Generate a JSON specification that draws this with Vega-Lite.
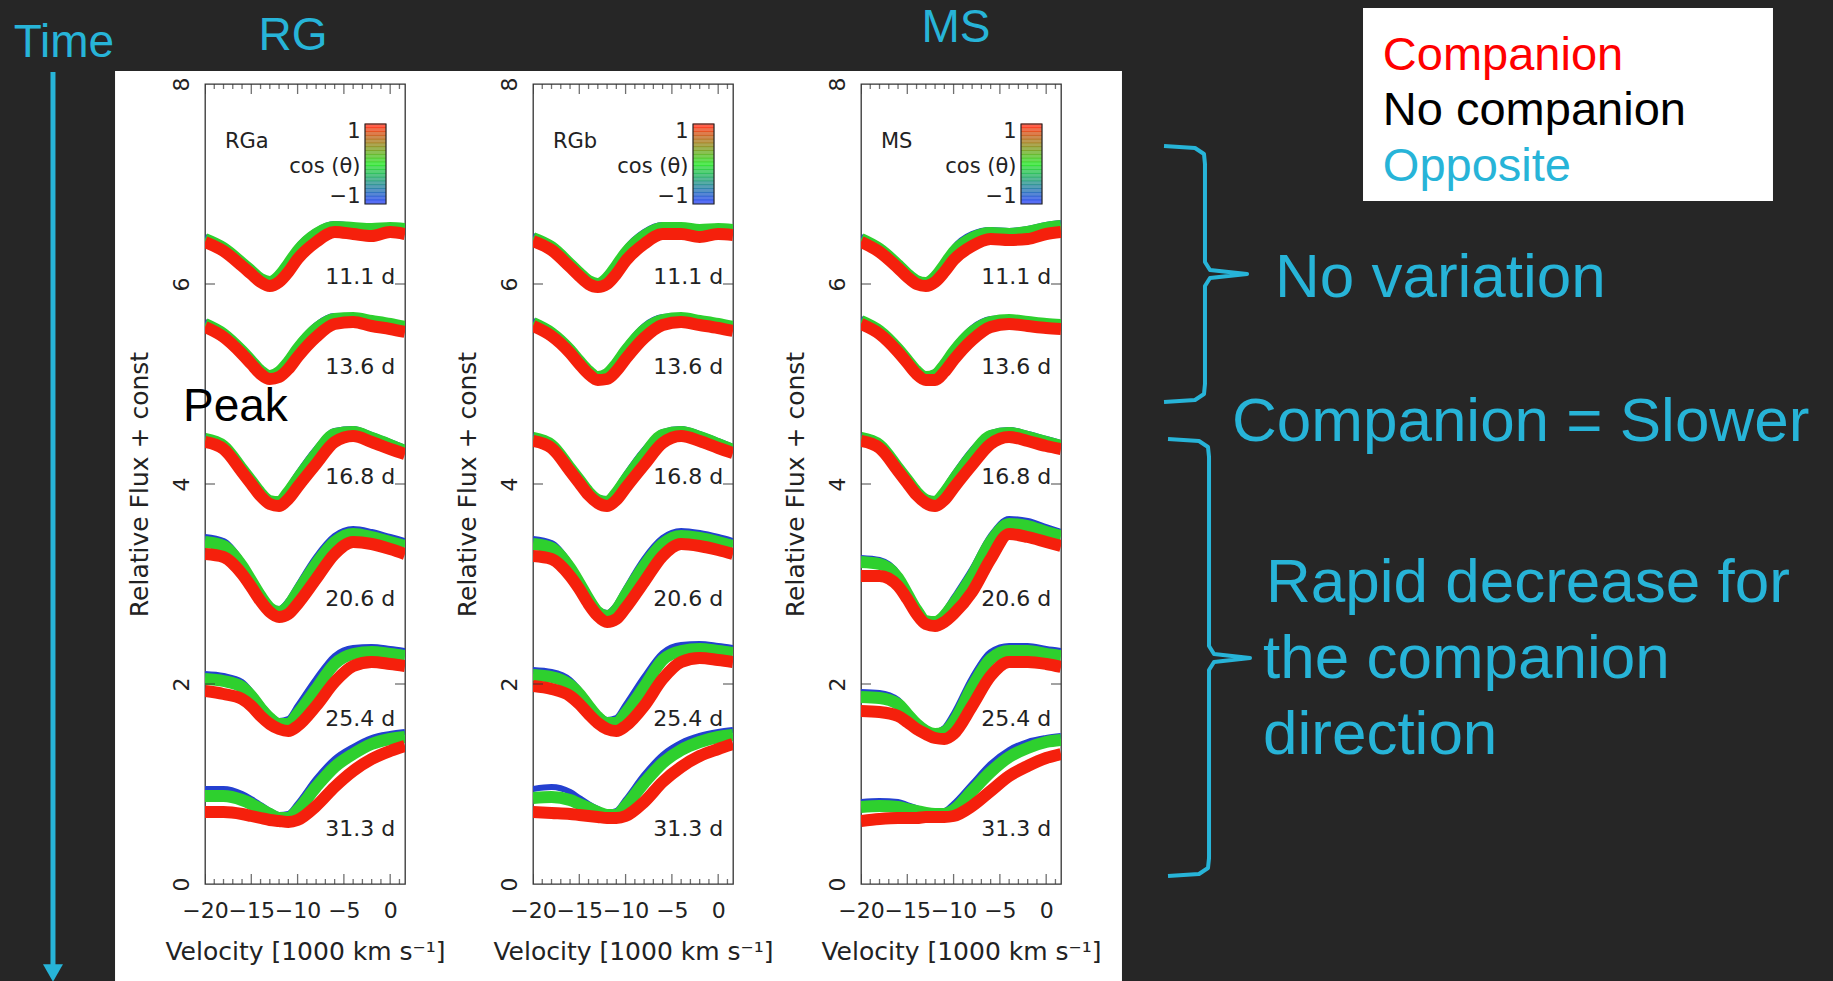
{
"$schema": "https://vega.github.io/schema/vega-lite/v6.json",
"background": "#262626",
"padding": {"left": 0, "top": 4, "right": 0, "bottom": 0},
"autosize": {"type": "pad"},
"bounds": "flush",
"spacing": 128,
"data": {"values": [{"o": 1}]},
"resolve": {"scale": {"color": "independent", "size": "independent"}},
"config": {
  "view": {"stroke": null},
  "axis": {"grid": false, "ticks": false, "domain": false, "labelFont": "DejaVu Sans", "labelFontSize": 22, "labelColor": "#222", "labelFlush": false, "labelOverlap": false, "titleFont": "DejaVu Sans", "titleFontSize": 25, "titleFontWeight": "normal", "titleColor": "#222"}
},
"datasets": {
  "spec": [
{"p":"RGa","e":"11.1","v":-20,"r":6.42,"g":6.45,"b":6.47},
{"p":"RGa","e":"11.1","v":-18,"r":6.33,"g":6.36,"b":6.38},
{"p":"RGa","e":"11.1","v":-16,"r":6.18,"g":6.21,"b":6.23},
{"p":"RGa","e":"11.1","v":-15,"r":6.10,"g":6.13,"b":6.15},
{"p":"RGa","e":"11.1","v":-14,"r":6.02,"g":6.05,"b":6.07},
{"p":"RGa","e":"11.1","v":-13,"r":5.98,"g":6.02,"b":6.04},
{"p":"RGa","e":"11.1","v":-12,"r":6.02,"g":6.08,"b":6.11},
{"p":"RGa","e":"11.1","v":-11,"r":6.12,"g":6.20,"b":6.23},
{"p":"RGa","e":"11.1","v":-10,"r":6.25,"g":6.33,"b":6.37},
{"p":"RGa","e":"11.1","v":-8,"r":6.42,"g":6.50,"b":6.53},
{"p":"RGa","e":"11.1","v":-6,"r":6.52,"g":6.57,"b":6.60},
{"p":"RGa","e":"11.1","v":-4,"r":6.50,"g":6.56,"b":6.58},
{"p":"RGa","e":"11.1","v":-2,"r":6.48,"g":6.55,"b":6.57},
{"p":"RGa","e":"11.1","v":0,"r":6.52,"g":6.56,"b":6.58},
{"p":"RGa","e":"11.1","v":1.6,"r":6.50,"g":6.55,"b":6.57},
{"p":"RGa","e":"13.6","v":-20,"r":5.57,"g":5.60,"b":5.62},
{"p":"RGa","e":"13.6","v":-18,"r":5.47,"g":5.50,"b":5.52},
{"p":"RGa","e":"13.6","v":-16,"r":5.30,"g":5.33,"b":5.35},
{"p":"RGa","e":"13.6","v":-15,"r":5.20,"g":5.23,"b":5.25},
{"p":"RGa","e":"13.6","v":-14,"r":5.10,"g":5.13,"b":5.15},
{"p":"RGa","e":"13.6","v":-13,"r":5.05,"g":5.08,"b":5.10},
{"p":"RGa","e":"13.6","v":-12,"r":5.07,"g":5.12,"b":5.15},
{"p":"RGa","e":"13.6","v":-11,"r":5.15,"g":5.22,"b":5.26},
{"p":"RGa","e":"13.6","v":-10,"r":5.27,"g":5.35,"b":5.39},
{"p":"RGa","e":"13.6","v":-8,"r":5.47,"g":5.55,"b":5.59},
{"p":"RGa","e":"13.6","v":-6,"r":5.60,"g":5.65,"b":5.68},
{"p":"RGa","e":"13.6","v":-4,"r":5.62,"g":5.66,"b":5.68},
{"p":"RGa","e":"13.6","v":-2,"r":5.58,"g":5.63,"b":5.65},
{"p":"RGa","e":"13.6","v":0,"r":5.55,"g":5.60,"b":5.62},
{"p":"RGa","e":"13.6","v":1.6,"r":5.52,"g":5.57,"b":5.59},
{"p":"RGa","e":"16.8","v":-20,"r":4.42,"g":4.45,"b":4.47},
{"p":"RGa","e":"16.8","v":-18,"r":4.35,"g":4.38,"b":4.40},
{"p":"RGa","e":"16.8","v":-16,"r":4.12,"g":4.15,"b":4.17},
{"p":"RGa","e":"16.8","v":-15,"r":4.00,"g":4.03,"b":4.05},
{"p":"RGa","e":"16.8","v":-14,"r":3.88,"g":3.91,"b":3.93},
{"p":"RGa","e":"16.8","v":-13,"r":3.80,"g":3.83,"b":3.85},
{"p":"RGa","e":"16.8","v":-12,"r":3.78,"g":3.82,"b":3.85},
{"p":"RGa","e":"16.8","v":-11,"r":3.85,"g":3.92,"b":3.96},
{"p":"RGa","e":"16.8","v":-10,"r":3.97,"g":4.05,"b":4.10},
{"p":"RGa","e":"16.8","v":-8,"r":4.20,"g":4.30,"b":4.35},
{"p":"RGa","e":"16.8","v":-6,"r":4.42,"g":4.50,"b":4.53},
{"p":"RGa","e":"16.8","v":-4,"r":4.48,"g":4.52,"b":4.55},
{"p":"RGa","e":"16.8","v":-2,"r":4.42,"g":4.46,"b":4.49},
{"p":"RGa","e":"16.8","v":0,"r":4.35,"g":4.39,"b":4.42},
{"p":"RGa","e":"16.8","v":1.6,"r":4.30,"g":4.33,"b":4.36},
{"p":"RGa","e":"20.6","v":-20,"r":3.30,"g":3.42,"b":3.47},
{"p":"RGa","e":"20.6","v":-18,"r":3.27,"g":3.38,"b":3.43},
{"p":"RGa","e":"20.6","v":-16,"r":3.10,"g":3.18,"b":3.22},
{"p":"RGa","e":"20.6","v":-15,"r":2.97,"g":3.03,"b":3.06},
{"p":"RGa","e":"20.6","v":-14,"r":2.83,"g":2.88,"b":2.90},
{"p":"RGa","e":"20.6","v":-13,"r":2.72,"g":2.76,"b":2.78},
{"p":"RGa","e":"20.6","v":-12,"r":2.67,"g":2.72,"b":2.75},
{"p":"RGa","e":"20.6","v":-11,"r":2.70,"g":2.78,"b":2.83},
{"p":"RGa","e":"20.6","v":-10,"r":2.80,"g":2.92,"b":2.98},
{"p":"RGa","e":"20.6","v":-8,"r":3.05,"g":3.20,"b":3.27},
{"p":"RGa","e":"20.6","v":-6,"r":3.30,"g":3.42,"b":3.48},
{"p":"RGa","e":"20.6","v":-4,"r":3.42,"g":3.50,"b":3.55},
{"p":"RGa","e":"20.6","v":-2,"r":3.40,"g":3.47,"b":3.52},
{"p":"RGa","e":"20.6","v":0,"r":3.35,"g":3.42,"b":3.47},
{"p":"RGa","e":"20.6","v":1.6,"r":3.30,"g":3.38,"b":3.43},
{"p":"RGa","e":"25.4","v":-20,"r":1.93,"g":2.05,"b":2.10},
{"p":"RGa","e":"25.4","v":-18,"r":1.90,"g":2.03,"b":2.08},
{"p":"RGa","e":"25.4","v":-16,"r":1.85,"g":1.97,"b":2.02},
{"p":"RGa","e":"25.4","v":-15,"r":1.78,"g":1.88,"b":1.92},
{"p":"RGa","e":"25.4","v":-14,"r":1.68,"g":1.76,"b":1.80},
{"p":"RGa","e":"25.4","v":-13,"r":1.60,"g":1.66,"b":1.69},
{"p":"RGa","e":"25.4","v":-12,"r":1.55,"g":1.60,"b":1.63},
{"p":"RGa","e":"25.4","v":-11,"r":1.53,"g":1.60,"b":1.65},
{"p":"RGa","e":"25.4","v":-10,"r":1.58,"g":1.70,"b":1.78},
{"p":"RGa","e":"25.4","v":-8,"r":1.78,"g":1.95,"b":2.05},
{"p":"RGa","e":"25.4","v":-6,"r":2.02,"g":2.20,"b":2.28},
{"p":"RGa","e":"25.4","v":-4,"r":2.18,"g":2.30,"b":2.36},
{"p":"RGa","e":"25.4","v":-2,"r":2.22,"g":2.32,"b":2.37},
{"p":"RGa","e":"25.4","v":0,"r":2.20,"g":2.30,"b":2.35},
{"p":"RGa","e":"25.4","v":1.6,"r":2.18,"g":2.28,"b":2.33},
{"p":"RGa","e":"31.3","v":-20,"r":0.72,"g":0.88,"b":0.95},
{"p":"RGa","e":"31.3","v":-18,"r":0.72,"g":0.88,"b":0.95},
{"p":"RGa","e":"31.3","v":-16,"r":0.70,"g":0.84,"b":0.90},
{"p":"RGa","e":"31.3","v":-15,"r":0.68,"g":0.80,"b":0.85},
{"p":"RGa","e":"31.3","v":-14,"r":0.66,"g":0.75,"b":0.79},
{"p":"RGa","e":"31.3","v":-13,"r":0.64,"g":0.70,"b":0.73},
{"p":"RGa","e":"31.3","v":-12,"r":0.63,"g":0.66,"b":0.69},
{"p":"RGa","e":"31.3","v":-11,"r":0.62,"g":0.66,"b":0.70},
{"p":"RGa","e":"31.3","v":-10,"r":0.64,"g":0.74,"b":0.80},
{"p":"RGa","e":"31.3","v":-8,"r":0.78,"g":0.97,"b":1.05},
{"p":"RGa","e":"31.3","v":-6,"r":0.97,"g":1.17,"b":1.25},
{"p":"RGa","e":"31.3","v":-4,"r":1.13,"g":1.30,"b":1.37},
{"p":"RGa","e":"31.3","v":-2,"r":1.25,"g":1.40,"b":1.46},
{"p":"RGa","e":"31.3","v":0,"r":1.33,"g":1.45,"b":1.50},
{"p":"RGa","e":"31.3","v":1.6,"r":1.38,"g":1.47,"b":1.52},
{"p":"RGb","e":"11.1","v":-20,"r":6.43,"g":6.46,"b":6.48},
{"p":"RGb","e":"11.1","v":-18,"r":6.34,"g":6.37,"b":6.39},
{"p":"RGb","e":"11.1","v":-16,"r":6.17,"g":6.20,"b":6.22},
{"p":"RGb","e":"11.1","v":-15,"r":6.08,"g":6.11,"b":6.13},
{"p":"RGb","e":"11.1","v":-14,"r":6.00,"g":6.03,"b":6.05},
{"p":"RGb","e":"11.1","v":-13,"r":5.97,"g":6.00,"b":6.02},
{"p":"RGb","e":"11.1","v":-12,"r":6.00,"g":6.06,"b":6.09},
{"p":"RGb","e":"11.1","v":-11,"r":6.10,"g":6.18,"b":6.21},
{"p":"RGb","e":"11.1","v":-10,"r":6.23,"g":6.31,"b":6.35},
{"p":"RGb","e":"11.1","v":-8,"r":6.40,"g":6.48,"b":6.52},
{"p":"RGb","e":"11.1","v":-6,"r":6.50,"g":6.56,"b":6.59},
{"p":"RGb","e":"11.1","v":-4,"r":6.50,"g":6.56,"b":6.58},
{"p":"RGb","e":"11.1","v":-2,"r":6.47,"g":6.54,"b":6.56},
{"p":"RGb","e":"11.1","v":0,"r":6.50,"g":6.55,"b":6.57},
{"p":"RGb","e":"11.1","v":1.6,"r":6.49,"g":6.54,"b":6.56},
{"p":"RGb","e":"13.6","v":-20,"r":5.58,"g":5.61,"b":5.63},
{"p":"RGb","e":"13.6","v":-18,"r":5.48,"g":5.51,"b":5.53},
{"p":"RGb","e":"13.6","v":-16,"r":5.31,"g":5.34,"b":5.36},
{"p":"RGb","e":"13.6","v":-15,"r":5.20,"g":5.23,"b":5.25},
{"p":"RGb","e":"13.6","v":-14,"r":5.10,"g":5.13,"b":5.15},
{"p":"RGb","e":"13.6","v":-13,"r":5.04,"g":5.07,"b":5.09},
{"p":"RGb","e":"13.6","v":-12,"r":5.05,"g":5.10,"b":5.13},
{"p":"RGb","e":"13.6","v":-11,"r":5.13,"g":5.20,"b":5.24},
{"p":"RGb","e":"13.6","v":-10,"r":5.25,"g":5.33,"b":5.37},
{"p":"RGb","e":"13.6","v":-8,"r":5.46,"g":5.54,"b":5.58},
{"p":"RGb","e":"13.6","v":-6,"r":5.59,"g":5.64,"b":5.67},
{"p":"RGb","e":"13.6","v":-4,"r":5.62,"g":5.66,"b":5.68},
{"p":"RGb","e":"13.6","v":-2,"r":5.59,"g":5.63,"b":5.65},
{"p":"RGb","e":"13.6","v":0,"r":5.56,"g":5.60,"b":5.62},
{"p":"RGb","e":"13.6","v":1.6,"r":5.53,"g":5.57,"b":5.59},
{"p":"RGb","e":"16.8","v":-20,"r":4.43,"g":4.46,"b":4.48},
{"p":"RGb","e":"16.8","v":-18,"r":4.36,"g":4.39,"b":4.41},
{"p":"RGb","e":"16.8","v":-16,"r":4.13,"g":4.16,"b":4.18},
{"p":"RGb","e":"16.8","v":-15,"r":4.01,"g":4.04,"b":4.06},
{"p":"RGb","e":"16.8","v":-14,"r":3.89,"g":3.92,"b":3.94},
{"p":"RGb","e":"16.8","v":-13,"r":3.81,"g":3.84,"b":3.86},
{"p":"RGb","e":"16.8","v":-12,"r":3.78,"g":3.82,"b":3.85},
{"p":"RGb","e":"16.8","v":-11,"r":3.84,"g":3.91,"b":3.95},
{"p":"RGb","e":"16.8","v":-10,"r":3.96,"g":4.04,"b":4.09},
{"p":"RGb","e":"16.8","v":-8,"r":4.19,"g":4.29,"b":4.34},
{"p":"RGb","e":"16.8","v":-6,"r":4.41,"g":4.49,"b":4.52},
{"p":"RGb","e":"16.8","v":-4,"r":4.48,"g":4.52,"b":4.55},
{"p":"RGb","e":"16.8","v":-2,"r":4.43,"g":4.47,"b":4.50},
{"p":"RGb","e":"16.8","v":0,"r":4.36,"g":4.40,"b":4.43},
{"p":"RGb","e":"16.8","v":1.6,"r":4.31,"g":4.34,"b":4.37},
{"p":"RGb","e":"20.6","v":-20,"r":3.28,"g":3.40,"b":3.45},
{"p":"RGb","e":"20.6","v":-18,"r":3.25,"g":3.36,"b":3.41},
{"p":"RGb","e":"20.6","v":-16,"r":3.08,"g":3.16,"b":3.20},
{"p":"RGb","e":"20.6","v":-15,"r":2.95,"g":3.01,"b":3.04},
{"p":"RGb","e":"20.6","v":-14,"r":2.80,"g":2.85,"b":2.88},
{"p":"RGb","e":"20.6","v":-13,"r":2.68,"g":2.72,"b":2.75},
{"p":"RGb","e":"20.6","v":-12,"r":2.62,"g":2.68,"b":2.71},
{"p":"RGb","e":"20.6","v":-11,"r":2.65,"g":2.74,"b":2.79},
{"p":"RGb","e":"20.6","v":-10,"r":2.76,"g":2.89,"b":2.95},
{"p":"RGb","e":"20.6","v":-8,"r":3.02,"g":3.18,"b":3.25},
{"p":"RGb","e":"20.6","v":-6,"r":3.28,"g":3.40,"b":3.46},
{"p":"RGb","e":"20.6","v":-4,"r":3.40,"g":3.48,"b":3.53},
{"p":"RGb","e":"20.6","v":-2,"r":3.38,"g":3.46,"b":3.51},
{"p":"RGb","e":"20.6","v":0,"r":3.34,"g":3.42,"b":3.47},
{"p":"RGb","e":"20.6","v":1.6,"r":3.30,"g":3.38,"b":3.43},
{"p":"RGb","e":"25.4","v":-20,"r":1.98,"g":2.09,"b":2.14},
{"p":"RGb","e":"25.4","v":-18,"r":1.95,"g":2.07,"b":2.12},
{"p":"RGb","e":"25.4","v":-16,"r":1.88,"g":1.99,"b":2.04},
{"p":"RGb","e":"25.4","v":-15,"r":1.80,"g":1.90,"b":1.94},
{"p":"RGb","e":"25.4","v":-14,"r":1.70,"g":1.78,"b":1.82},
{"p":"RGb","e":"25.4","v":-13,"r":1.61,"g":1.67,"b":1.70},
{"p":"RGb","e":"25.4","v":-12,"r":1.55,"g":1.61,"b":1.64},
{"p":"RGb","e":"25.4","v":-11,"r":1.53,"g":1.61,"b":1.66},
{"p":"RGb","e":"25.4","v":-10,"r":1.58,"g":1.71,"b":1.79},
{"p":"RGb","e":"25.4","v":-8,"r":1.78,"g":1.97,"b":2.07},
{"p":"RGb","e":"25.4","v":-6,"r":2.05,"g":2.24,"b":2.31},
{"p":"RGb","e":"25.4","v":-4,"r":2.22,"g":2.33,"b":2.39},
{"p":"RGb","e":"25.4","v":-2,"r":2.26,"g":2.35,"b":2.40},
{"p":"RGb","e":"25.4","v":0,"r":2.24,"g":2.33,"b":2.38},
{"p":"RGb","e":"25.4","v":1.6,"r":2.22,"g":2.31,"b":2.36},
{"p":"RGb","e":"31.3","v":-20,"r":0.72,"g":0.86,"b":0.95},
{"p":"RGb","e":"31.3","v":-18,"r":0.71,"g":0.87,"b":0.97},
{"p":"RGb","e":"31.3","v":-16,"r":0.70,"g":0.84,"b":0.92},
{"p":"RGb","e":"31.3","v":-15,"r":0.69,"g":0.80,"b":0.86},
{"p":"RGb","e":"31.3","v":-14,"r":0.68,"g":0.76,"b":0.80},
{"p":"RGb","e":"31.3","v":-13,"r":0.67,"g":0.72,"b":0.75},
{"p":"RGb","e":"31.3","v":-12,"r":0.66,"g":0.69,"b":0.71},
{"p":"RGb","e":"31.3","v":-11,"r":0.66,"g":0.69,"b":0.73},
{"p":"RGb","e":"31.3","v":-10,"r":0.68,"g":0.78,"b":0.84},
{"p":"RGb","e":"31.3","v":-8,"r":0.82,"g":1.01,"b":1.09},
{"p":"RGb","e":"31.3","v":-6,"r":1.02,"g":1.21,"b":1.29},
{"p":"RGb","e":"31.3","v":-4,"r":1.17,"g":1.34,"b":1.41},
{"p":"RGb","e":"31.3","v":-2,"r":1.28,"g":1.42,"b":1.48},
{"p":"RGb","e":"31.3","v":0,"r":1.35,"g":1.47,"b":1.52},
{"p":"RGb","e":"31.3","v":1.6,"r":1.40,"g":1.49,"b":1.54},
{"p":"MS","e":"11.1","v":-20,"r":6.42,"g":6.45,"b":6.47},
{"p":"MS","e":"11.1","v":-18,"r":6.32,"g":6.35,"b":6.37},
{"p":"MS","e":"11.1","v":-16,"r":6.16,"g":6.19,"b":6.21},
{"p":"MS","e":"11.1","v":-15,"r":6.07,"g":6.10,"b":6.12},
{"p":"MS","e":"11.1","v":-14,"r":6.00,"g":6.03,"b":6.05},
{"p":"MS","e":"11.1","v":-13,"r":5.98,"g":6.01,"b":6.03},
{"p":"MS","e":"11.1","v":-12,"r":6.02,"g":6.07,"b":6.10},
{"p":"MS","e":"11.1","v":-11,"r":6.12,"g":6.19,"b":6.22},
{"p":"MS","e":"11.1","v":-10,"r":6.24,"g":6.32,"b":6.36},
{"p":"MS","e":"11.1","v":-8,"r":6.38,"g":6.46,"b":6.50},
{"p":"MS","e":"11.1","v":-6,"r":6.45,"g":6.51,"b":6.54},
{"p":"MS","e":"11.1","v":-4,"r":6.44,"g":6.50,"b":6.53},
{"p":"MS","e":"11.1","v":-2,"r":6.45,"g":6.52,"b":6.55},
{"p":"MS","e":"11.1","v":0,"r":6.50,"g":6.56,"b":6.59},
{"p":"MS","e":"11.1","v":1.6,"r":6.52,"g":6.58,"b":6.61},
{"p":"MS","e":"13.6","v":-20,"r":5.60,"g":5.63,"b":5.65},
{"p":"MS","e":"13.6","v":-18,"r":5.50,"g":5.53,"b":5.55},
{"p":"MS","e":"13.6","v":-16,"r":5.32,"g":5.35,"b":5.37},
{"p":"MS","e":"13.6","v":-15,"r":5.21,"g":5.24,"b":5.26},
{"p":"MS","e":"13.6","v":-14,"r":5.10,"g":5.13,"b":5.15},
{"p":"MS","e":"13.6","v":-13,"r":5.04,"g":5.07,"b":5.09},
{"p":"MS","e":"13.6","v":-12,"r":5.04,"g":5.09,"b":5.12},
{"p":"MS","e":"13.6","v":-11,"r":5.12,"g":5.19,"b":5.23},
{"p":"MS","e":"13.6","v":-10,"r":5.24,"g":5.32,"b":5.36},
{"p":"MS","e":"13.6","v":-8,"r":5.44,"g":5.52,"b":5.56},
{"p":"MS","e":"13.6","v":-6,"r":5.57,"g":5.62,"b":5.65},
{"p":"MS","e":"13.6","v":-4,"r":5.60,"g":5.64,"b":5.66},
{"p":"MS","e":"13.6","v":-2,"r":5.58,"g":5.62,"b":5.64},
{"p":"MS","e":"13.6","v":0,"r":5.56,"g":5.60,"b":5.62},
{"p":"MS","e":"13.6","v":1.6,"r":5.55,"g":5.59,"b":5.61},
{"p":"MS","e":"16.8","v":-20,"r":4.43,"g":4.46,"b":4.48},
{"p":"MS","e":"16.8","v":-18,"r":4.36,"g":4.39,"b":4.41},
{"p":"MS","e":"16.8","v":-16,"r":4.13,"g":4.16,"b":4.18},
{"p":"MS","e":"16.8","v":-15,"r":4.01,"g":4.04,"b":4.06},
{"p":"MS","e":"16.8","v":-14,"r":3.89,"g":3.92,"b":3.94},
{"p":"MS","e":"16.8","v":-13,"r":3.81,"g":3.84,"b":3.86},
{"p":"MS","e":"16.8","v":-12,"r":3.78,"g":3.82,"b":3.85},
{"p":"MS","e":"16.8","v":-11,"r":3.84,"g":3.91,"b":3.95},
{"p":"MS","e":"16.8","v":-10,"r":3.96,"g":4.04,"b":4.09},
{"p":"MS","e":"16.8","v":-8,"r":4.19,"g":4.29,"b":4.34},
{"p":"MS","e":"16.8","v":-6,"r":4.40,"g":4.48,"b":4.51},
{"p":"MS","e":"16.8","v":-4,"r":4.47,"g":4.51,"b":4.54},
{"p":"MS","e":"16.8","v":-2,"r":4.43,"g":4.47,"b":4.50},
{"p":"MS","e":"16.8","v":0,"r":4.38,"g":4.42,"b":4.45},
{"p":"MS","e":"16.8","v":1.6,"r":4.35,"g":4.38,"b":4.41},
{"p":"MS","e":"20.6","v":-20,"r":3.08,"g":3.22,"b":3.26},
{"p":"MS","e":"20.6","v":-18,"r":3.08,"g":3.20,"b":3.24},
{"p":"MS","e":"20.6","v":-16,"r":2.98,"g":3.06,"b":3.10},
{"p":"MS","e":"20.6","v":-15,"r":2.85,"g":2.90,"b":2.93},
{"p":"MS","e":"20.6","v":-14,"r":2.70,"g":2.74,"b":2.76},
{"p":"MS","e":"20.6","v":-13,"r":2.60,"g":2.63,"b":2.65},
{"p":"MS","e":"20.6","v":-12,"r":2.58,"g":2.62,"b":2.64},
{"p":"MS","e":"20.6","v":-11,"r":2.62,"g":2.68,"b":2.72},
{"p":"MS","e":"20.6","v":-10,"r":2.70,"g":2.80,"b":2.86},
{"p":"MS","e":"20.6","v":-8,"r":2.92,"g":3.08,"b":3.15},
{"p":"MS","e":"20.6","v":-6,"r":3.25,"g":3.42,"b":3.48},
{"p":"MS","e":"20.6","v":-4,"r":3.50,"g":3.60,"b":3.65},
{"p":"MS","e":"20.6","v":-2,"r":3.47,"g":3.58,"b":3.63},
{"p":"MS","e":"20.6","v":0,"r":3.42,"g":3.52,"b":3.57},
{"p":"MS","e":"20.6","v":1.6,"r":3.38,"g":3.48,"b":3.52},
{"p":"MS","e":"25.4","v":-20,"r":1.73,"g":1.87,"b":1.92},
{"p":"MS","e":"25.4","v":-18,"r":1.72,"g":1.86,"b":1.91},
{"p":"MS","e":"25.4","v":-16,"r":1.68,"g":1.80,"b":1.84},
{"p":"MS","e":"25.4","v":-15,"r":1.62,"g":1.70,"b":1.73},
{"p":"MS","e":"25.4","v":-14,"r":1.55,"g":1.60,"b":1.62},
{"p":"MS","e":"25.4","v":-13,"r":1.50,"g":1.53,"b":1.55},
{"p":"MS","e":"25.4","v":-12,"r":1.46,"g":1.50,"b":1.52},
{"p":"MS","e":"25.4","v":-11,"r":1.45,"g":1.52,"b":1.56},
{"p":"MS","e":"25.4","v":-10,"r":1.50,"g":1.62,"b":1.70},
{"p":"MS","e":"25.4","v":-8,"r":1.78,"g":1.97,"b":2.06},
{"p":"MS","e":"25.4","v":-6,"r":2.08,"g":2.25,"b":2.32},
{"p":"MS","e":"25.4","v":-4,"r":2.22,"g":2.33,"b":2.38},
{"p":"MS","e":"25.4","v":-2,"r":2.22,"g":2.33,"b":2.38},
{"p":"MS","e":"25.4","v":0,"r":2.20,"g":2.30,"b":2.35},
{"p":"MS","e":"25.4","v":1.6,"r":2.17,"g":2.28,"b":2.33},
{"p":"MS","e":"31.3","v":-20,"r":0.63,"g":0.77,"b":0.82},
{"p":"MS","e":"31.3","v":-18,"r":0.65,"g":0.78,"b":0.83},
{"p":"MS","e":"31.3","v":-16,"r":0.66,"g":0.77,"b":0.82},
{"p":"MS","e":"31.3","v":-15,"r":0.66,"g":0.75,"b":0.79},
{"p":"MS","e":"31.3","v":-14,"r":0.66,"g":0.73,"b":0.76},
{"p":"MS","e":"31.3","v":-13,"r":0.67,"g":0.71,"b":0.73},
{"p":"MS","e":"31.3","v":-12,"r":0.67,"g":0.70,"b":0.72},
{"p":"MS","e":"31.3","v":-11,"r":0.67,"g":0.70,"b":0.73},
{"p":"MS","e":"31.3","v":-10,"r":0.68,"g":0.74,"b":0.80},
{"p":"MS","e":"31.3","v":-8,"r":0.78,"g":0.93,"b":1.00},
{"p":"MS","e":"31.3","v":-6,"r":0.93,"g":1.12,"b":1.20},
{"p":"MS","e":"31.3","v":-4,"r":1.08,"g":1.27,"b":1.34},
{"p":"MS","e":"31.3","v":-2,"r":1.18,"g":1.36,"b":1.42},
{"p":"MS","e":"31.3","v":0,"r":1.26,"g":1.42,"b":1.46},
{"p":"MS","e":"31.3","v":1.6,"r":1.30,"g":1.44,"b":1.48}
  ],
  "xt": [
{"v":-20,"k":"M"},{"v":-19,"k":"m"},{"v":-18,"k":"m"},{"v":-17,"k":"m"},{"v":-16,"k":"m"},
{"v":-15,"k":"M"},{"v":-14,"k":"m"},{"v":-13,"k":"m"},{"v":-12,"k":"m"},{"v":-11,"k":"m"},
{"v":-10,"k":"M"},{"v":-9,"k":"m"},{"v":-8,"k":"m"},{"v":-7,"k":"m"},{"v":-6,"k":"m"},
{"v":-5,"k":"M"},{"v":-4,"k":"m"},{"v":-3,"k":"m"},{"v":-2,"k":"m"},{"v":-1,"k":"m"},
{"v":0,"k":"M"},{"v":1,"k":"m"}
  ],
  "yt": [{"f":2},{"f":4},{"f":6}],
  "lab": [
{"t":"11.1 d","f":6.07},{"t":"13.6 d","f":5.17},{"t":"16.8 d","f":4.07},
{"t":"20.6 d","f":2.85},{"t":"25.4 d","f":1.65},{"t":"31.3 d","f":0.55}
  ],
  "cbl": [{"t":"1","f":7.52},{"t":"cos (θ)","f":7.17},{"t":"−1","f":6.87}],
  "cb": [
{"c":-1},{"c":-0.9},{"c":-0.8},{"c":-0.7},{"c":-0.6},{"c":-0.5},{"c":-0.4},{"c":-0.3},{"c":-0.2},{"c":-0.1},{"c":0},
{"c":0.1},{"c":0.2},{"c":0.3},{"c":0.4},{"c":0.5},{"c":0.6},{"c":0.7},{"c":0.8},{"c":0.9},{"c":1}
  ],
  "ins": [{"p":"RGa","t":"RGa"},{"p":"RGb","t":"RGb"},{"p":"MS","t":"MS"}],
  "leg": [
{"t":"Companion","x":3.01,"y":8.14},
{"t":"No companion","x":3.01,"y":7.59},
{"t":"Opposite","x":3.01,"y":7.03}
  ],
  "notes": [
{"t":"No variation","x":1.335,"y":5.87},
{"t":"Companion = Slower","x":0.668,"y":4.43},
{"t":"Rapid decrease for","x":1.196,"y":2.82},
{"t":"the companion","x":1.149,"y":2.06},
{"t":"direction","x":1.149,"y":1.30}
  ],
  "br": [
{"b":"a","i":0,"x":-0.388,"y":7.38},{"b":"a","i":1,"x":0.093,"y":7.36},{"b":"a","i":2,"x":0.233,"y":7.30},
{"b":"a","i":3,"x":0.248,"y":7.20},{"b":"a","i":4,"x":0.248,"y":6.22},{"b":"a","i":5,"x":0.326,"y":6.14},
{"b":"a","i":6,"x":0.901,"y":6.10},{"b":"a","i":7,"x":0.326,"y":6.06},{"b":"a","i":8,"x":0.248,"y":5.98},
{"b":"a","i":9,"x":0.248,"y":5.00},{"b":"a","i":10,"x":0.233,"y":4.90},{"b":"a","i":11,"x":0.093,"y":4.84},
{"b":"a","i":12,"x":-0.388,"y":4.82},
{"b":"b","i":0,"x":-0.326,"y":4.45},{"b":"b","i":1,"x":0.155,"y":4.43},{"b":"b","i":2,"x":0.295,"y":4.37},
{"b":"b","i":3,"x":0.311,"y":4.27},{"b":"b","i":4,"x":0.311,"y":2.38},{"b":"b","i":5,"x":0.388,"y":2.30},
{"b":"b","i":6,"x":0.947,"y":2.26},{"b":"b","i":7,"x":0.388,"y":2.22},{"b":"b","i":8,"x":0.311,"y":2.14},
{"b":"b","i":9,"x":0.311,"y":0.26},{"b":"b","i":10,"x":0.295,"y":0.16},{"b":"b","i":11,"x":0.155,"y":0.10},
{"b":"b","i":12,"x":-0.326,"y":0.08}
  ]
},
"hconcat": [
  {
    "width": 77, "height": 800,
    "layer": [
      {"mark": {"type": "rect", "color": "white"},
       "encoding": {"x": {"datum": 1.494, "type": "quantitative", "scale": {"domain": [0, 1], "nice": false, "zero": false}, "axis": null}, "x2": {"datum": 14.571},
                    "y": {"datum": 8.13, "type": "quantitative", "scale": {"domain": [0, 8], "nice": false, "zero": false}, "axis": null}, "y2": {"datum": -0.995}}},
      {"mark": {"type": "rule", "color": "#27b4d8", "strokeWidth": 5},
       "encoding": {"x": {"datum": 0.688, "type": "quantitative", "scale": {"domain": [0, 1], "nice": false, "zero": false}}, "y": {"datum": 8.12, "type": "quantitative", "scale": {"domain": [0, 8], "nice": false, "zero": false}}, "y2": {"datum": -0.82}}},
      {"mark": {"type": "point", "shape": "triangle-down", "filled": true, "size": 400, "color": "#27b4d8", "opacity": 1},
       "encoding": {"x": {"datum": 0.688, "type": "quantitative", "scale": {"domain": [0, 1], "nice": false, "zero": false}}, "y": {"datum": -0.89, "type": "quantitative", "scale": {"domain": [0, 8], "nice": false, "zero": false}}}},
      {"mark": {"type": "text", "text": "Time", "font": "Liberation Sans", "fontSize": 46, "color": "#27b4d8", "align": "center", "baseline": "alphabetic"},
       "encoding": {"x": {"datum": 0.83, "type": "quantitative", "scale": {"domain": [0, 1], "nice": false, "zero": false}}, "y": {"datum": 8.27, "type": "quantitative", "scale": {"domain": [0, 8], "nice": false, "zero": false}}}}
    ]
  },
  {
    "width": 200, "height": 800,
    "view": {"stroke": "#333", "strokeWidth": 1.3},
    "resolve": {"scale": {"y": "independent"}},
    "layer": [
      {"layer": [
        {"data": {"name": "spec"}, "transform": [{"filter": "datum.p === 'RGa'"}],
         "mark": {"type": "line", "color": "#2440d0", "strokeWidth": 6, "interpolate": "monotone", "clip": true},
         "encoding": {"x": {"field": "v", "type": "quantitative", "scale": {"domain": [-20, 1.6], "nice": false, "zero": false}, "axis": {"values": [-20, -15, -10, -5, 0], "title": "Velocity [1000 km s⁻¹]", "labelPadding": 16, "titlePadding": 18}},
                      "y": {"field": "b", "type": "quantitative", "scale": {"domain": [0, 8], "nice": false, "zero": false}, "axis": {"values": [0, 2, 4, 6, 8], "format": "d", "title": "Relative Flux + const", "labelAngle": -90, "labelAlign": "center", "labelBaseline": "alphabetic", "labelPadding": 17, "titlePadding": 18}},
                      "detail": {"field": "e", "type": "nominal"}}},
        {"data": {"name": "spec"}, "transform": [{"filter": "datum.p === 'RGa'"}],
         "mark": {"type": "line", "color": "#2ed02e", "strokeWidth": 12, "interpolate": "monotone", "clip": true},
         "encoding": {"x": {"field": "v", "type": "quantitative", "scale": {"domain": [-20, 1.6], "nice": false, "zero": false}}, "y": {"field": "g", "type": "quantitative", "scale": {"domain": [0, 8], "nice": false, "zero": false}}, "detail": {"field": "e", "type": "nominal"}}},
        {"data": {"name": "spec"}, "transform": [{"filter": "datum.p === 'RGa'"}],
         "mark": {"type": "line", "color": "#f5200c", "strokeWidth": 12, "interpolate": "monotone", "clip": true},
         "encoding": {"x": {"field": "v", "type": "quantitative", "scale": {"domain": [-20, 1.6], "nice": false, "zero": false}}, "y": {"field": "r", "type": "quantitative", "scale": {"domain": [0, 8], "nice": false, "zero": false}}, "detail": {"field": "e", "type": "nominal"}}},
        {"data": {"name": "xt"}, "mark": {"type": "tick", "orient": "vertical", "thickness": 1.3, "color": "#333", "clip": true},
         "encoding": {"x": {"field": "v", "type": "quantitative", "scale": {"domain": [-20, 1.6], "nice": false, "zero": false}}, "y": {"datum": 0, "type": "quantitative", "scale": {"domain": [0, 8], "nice": false, "zero": false}}, "size": {"field": "k", "type": "ordinal", "scale": {"domain": ["M", "m"], "range": [20, 10]}, "legend": null}}},
        {"data": {"name": "xt"}, "mark": {"type": "tick", "orient": "vertical", "thickness": 1.3, "color": "#333", "clip": true},
         "encoding": {"x": {"field": "v", "type": "quantitative", "scale": {"domain": [-20, 1.6], "nice": false, "zero": false}}, "y": {"datum": 8, "type": "quantitative", "scale": {"domain": [0, 8], "nice": false, "zero": false}}, "size": {"field": "k", "type": "ordinal", "scale": {"domain": ["M", "m"], "range": [20, 10]}, "legend": null}}},
        {"data": {"name": "yt"}, "mark": {"type": "tick", "orient": "horizontal", "thickness": 1.3, "size": 20, "color": "#333", "clip": true},
         "encoding": {"x": {"datum": -20, "type": "quantitative", "scale": {"domain": [-20, 1.6], "nice": false, "zero": false}}, "y": {"field": "f", "type": "quantitative", "scale": {"domain": [0, 8], "nice": false, "zero": false}}}},
        {"data": {"name": "yt"}, "mark": {"type": "tick", "orient": "horizontal", "thickness": 1.3, "size": 20, "color": "#333", "clip": true},
         "encoding": {"x": {"datum": 1.6, "type": "quantitative", "scale": {"domain": [-20, 1.6], "nice": false, "zero": false}}, "y": {"field": "f", "type": "quantitative", "scale": {"domain": [0, 8], "nice": false, "zero": false}}}},
        {"data": {"name": "lab"}, "mark": {"type": "text", "align": "right", "baseline": "middle", "font": "DejaVu Sans", "fontSize": 22, "color": "#222"},
         "encoding": {"x": {"datum": 0.55, "type": "quantitative", "scale": {"domain": [-20, 1.6], "nice": false, "zero": false}}, "y": {"field": "f", "type": "quantitative", "scale": {"domain": [0, 8], "nice": false, "zero": false}}, "text": {"field": "t"}}},
        {"data": {"name": "cbl"}, "mark": {"type": "text", "align": "right", "baseline": "middle", "font": "DejaVu Sans", "fontSize": 21, "color": "#222"},
         "encoding": {"x": {"datum": -3.2, "type": "quantitative", "scale": {"domain": [-20, 1.6], "nice": false, "zero": false}}, "y": {"field": "f", "type": "quantitative", "scale": {"domain": [0, 8], "nice": false, "zero": false}}, "text": {"field": "t"}}},
        {"data": {"name": "ins"}, "transform": [{"filter": "datum.p === 'RGa'"}], "mark": {"type": "text", "align": "left", "baseline": "middle", "font": "DejaVu Sans", "fontSize": 21, "color": "#222"},
         "encoding": {"x": {"datum": -17.84, "type": "quantitative", "scale": {"domain": [-20, 1.6], "nice": false, "zero": false}}, "y": {"datum": 7.42, "type": "quantitative", "scale": {"domain": [0, 8], "nice": false, "zero": false}}, "text": {"field": "t"}}},
        {"mark": {"type": "text", "text": "RG", "align": "center", "baseline": "alphabetic", "font": "Liberation Sans", "fontSize": 46, "color": "#27b4d8"},
         "encoding": {"x": {"datum": -10.5, "type": "quantitative", "scale": {"domain": [-20, 1.6], "nice": false, "zero": false}}, "y": {"datum": 8.34, "type": "quantitative", "scale": {"domain": [0, 8], "nice": false, "zero": false}}}},
        {"mark": {"type": "text", "text": "Peak", "align": "left", "baseline": "alphabetic", "font": "Liberation Sans", "fontSize": 46, "color": "#000"},
         "encoding": {"x": {"datum": -22.38, "type": "quantitative", "scale": {"domain": [-20, 1.6], "nice": false, "zero": false}}, "y": {"datum": 4.63, "type": "quantitative", "scale": {"domain": [0, 8], "nice": false, "zero": false}}}}
      ]},
      {"data": {"name": "cb"}, "mark": {"type": "tick", "orient": "horizontal", "thickness": 4.6, "size": 21},
       "encoding": {"x": {"datum": -1.585, "type": "quantitative", "scale": {"domain": [-20, 1.6], "nice": false, "zero": false}},
                    "y": {"field": "c", "type": "quantitative", "scale": {"domain": [-18.95, 2.1], "nice": false, "zero": false}, "axis": null},
                    "color": {"field": "c", "type": "quantitative", "scale": {"domain": [-1, 0, 1], "range": ["#1030f0", "#10e010", "#ff2000"], "interpolate": "rgb"}, "legend": null}}},
      {"mark": {"type": "rect", "filled": false, "color": "#222", "strokeWidth": 1.2},
       "encoding": {"x": {"datum": -2.72, "type": "quantitative", "scale": {"domain": [-20, 1.6], "nice": false, "zero": false}}, "x2": {"datum": -0.45},
                    "y": {"datum": 7.6, "type": "quantitative", "scale": {"domain": [0, 8], "nice": false, "zero": false}, "axis": null}, "y2": {"datum": 6.8}}}
    ]
  },
  {
    "width": 200, "height": 800,
    "view": {"stroke": "#333", "strokeWidth": 1.3},
    "resolve": {"scale": {"y": "independent"}},
    "layer": [
      {"layer": [
        {"data": {"name": "spec"}, "transform": [{"filter": "datum.p === 'RGb'"}],
         "mark": {"type": "line", "color": "#2440d0", "strokeWidth": 6, "interpolate": "monotone", "clip": true},
         "encoding": {"x": {"field": "v", "type": "quantitative", "scale": {"domain": [-20, 1.6], "nice": false, "zero": false}, "axis": {"values": [-20, -15, -10, -5, 0], "title": "Velocity [1000 km s⁻¹]", "labelPadding": 16, "titlePadding": 18}},
                      "y": {"field": "b", "type": "quantitative", "scale": {"domain": [0, 8], "nice": false, "zero": false}, "axis": {"values": [0, 2, 4, 6, 8], "format": "d", "title": "Relative Flux + const", "labelAngle": -90, "labelAlign": "center", "labelBaseline": "alphabetic", "labelPadding": 17, "titlePadding": 18}},
                      "detail": {"field": "e", "type": "nominal"}}},
        {"data": {"name": "spec"}, "transform": [{"filter": "datum.p === 'RGb'"}],
         "mark": {"type": "line", "color": "#2ed02e", "strokeWidth": 12, "interpolate": "monotone", "clip": true},
         "encoding": {"x": {"field": "v", "type": "quantitative", "scale": {"domain": [-20, 1.6], "nice": false, "zero": false}}, "y": {"field": "g", "type": "quantitative", "scale": {"domain": [0, 8], "nice": false, "zero": false}}, "detail": {"field": "e", "type": "nominal"}}},
        {"data": {"name": "spec"}, "transform": [{"filter": "datum.p === 'RGb'"}],
         "mark": {"type": "line", "color": "#f5200c", "strokeWidth": 12, "interpolate": "monotone", "clip": true},
         "encoding": {"x": {"field": "v", "type": "quantitative", "scale": {"domain": [-20, 1.6], "nice": false, "zero": false}}, "y": {"field": "r", "type": "quantitative", "scale": {"domain": [0, 8], "nice": false, "zero": false}}, "detail": {"field": "e", "type": "nominal"}}},
        {"data": {"name": "xt"}, "mark": {"type": "tick", "orient": "vertical", "thickness": 1.3, "color": "#333", "clip": true},
         "encoding": {"x": {"field": "v", "type": "quantitative", "scale": {"domain": [-20, 1.6], "nice": false, "zero": false}}, "y": {"datum": 0, "type": "quantitative", "scale": {"domain": [0, 8], "nice": false, "zero": false}}, "size": {"field": "k", "type": "ordinal", "scale": {"domain": ["M", "m"], "range": [20, 10]}, "legend": null}}},
        {"data": {"name": "xt"}, "mark": {"type": "tick", "orient": "vertical", "thickness": 1.3, "color": "#333", "clip": true},
         "encoding": {"x": {"field": "v", "type": "quantitative", "scale": {"domain": [-20, 1.6], "nice": false, "zero": false}}, "y": {"datum": 8, "type": "quantitative", "scale": {"domain": [0, 8], "nice": false, "zero": false}}, "size": {"field": "k", "type": "ordinal", "scale": {"domain": ["M", "m"], "range": [20, 10]}, "legend": null}}},
        {"data": {"name": "yt"}, "mark": {"type": "tick", "orient": "horizontal", "thickness": 1.3, "size": 20, "color": "#333", "clip": true},
         "encoding": {"x": {"datum": -20, "type": "quantitative", "scale": {"domain": [-20, 1.6], "nice": false, "zero": false}}, "y": {"field": "f", "type": "quantitative", "scale": {"domain": [0, 8], "nice": false, "zero": false}}}},
        {"data": {"name": "yt"}, "mark": {"type": "tick", "orient": "horizontal", "thickness": 1.3, "size": 20, "color": "#333", "clip": true},
         "encoding": {"x": {"datum": 1.6, "type": "quantitative", "scale": {"domain": [-20, 1.6], "nice": false, "zero": false}}, "y": {"field": "f", "type": "quantitative", "scale": {"domain": [0, 8], "nice": false, "zero": false}}}},
        {"data": {"name": "lab"}, "mark": {"type": "text", "align": "right", "baseline": "middle", "font": "DejaVu Sans", "fontSize": 22, "color": "#222"},
         "encoding": {"x": {"datum": 0.55, "type": "quantitative", "scale": {"domain": [-20, 1.6], "nice": false, "zero": false}}, "y": {"field": "f", "type": "quantitative", "scale": {"domain": [0, 8], "nice": false, "zero": false}}, "text": {"field": "t"}}},
        {"data": {"name": "cbl"}, "mark": {"type": "text", "align": "right", "baseline": "middle", "font": "DejaVu Sans", "fontSize": 21, "color": "#222"},
         "encoding": {"x": {"datum": -3.2, "type": "quantitative", "scale": {"domain": [-20, 1.6], "nice": false, "zero": false}}, "y": {"field": "f", "type": "quantitative", "scale": {"domain": [0, 8], "nice": false, "zero": false}}, "text": {"field": "t"}}},
        {"data": {"name": "ins"}, "transform": [{"filter": "datum.p === 'RGb'"}], "mark": {"type": "text", "align": "left", "baseline": "middle", "font": "DejaVu Sans", "fontSize": 21, "color": "#222"},
         "encoding": {"x": {"datum": -17.84, "type": "quantitative", "scale": {"domain": [-20, 1.6], "nice": false, "zero": false}}, "y": {"datum": 7.42, "type": "quantitative", "scale": {"domain": [0, 8], "nice": false, "zero": false}}, "text": {"field": "t"}}}
      ]},
      {"data": {"name": "cb"}, "mark": {"type": "tick", "orient": "horizontal", "thickness": 4.6, "size": 21},
       "encoding": {"x": {"datum": -1.585, "type": "quantitative", "scale": {"domain": [-20, 1.6], "nice": false, "zero": false}},
                    "y": {"field": "c", "type": "quantitative", "scale": {"domain": [-18.95, 2.1], "nice": false, "zero": false}, "axis": null},
                    "color": {"field": "c", "type": "quantitative", "scale": {"domain": [-1, 0, 1], "range": ["#1030f0", "#10e010", "#ff2000"], "interpolate": "rgb"}, "legend": null}}},
      {"mark": {"type": "rect", "filled": false, "color": "#222", "strokeWidth": 1.2},
       "encoding": {"x": {"datum": -2.72, "type": "quantitative", "scale": {"domain": [-20, 1.6], "nice": false, "zero": false}}, "x2": {"datum": -0.45},
                    "y": {"datum": 7.6, "type": "quantitative", "scale": {"domain": [0, 8], "nice": false, "zero": false}, "axis": null}, "y2": {"datum": 6.8}}}
    ]
  },
  {
    "width": 200, "height": 800,
    "view": {"stroke": "#333", "strokeWidth": 1.3},
    "resolve": {"scale": {"y": "independent"}},
    "layer": [
      {"layer": [
        {"data": {"name": "spec"}, "transform": [{"filter": "datum.p === 'MS'"}],
         "mark": {"type": "line", "color": "#2440d0", "strokeWidth": 6, "interpolate": "monotone", "clip": true},
         "encoding": {"x": {"field": "v", "type": "quantitative", "scale": {"domain": [-20, 1.6], "nice": false, "zero": false}, "axis": {"values": [-20, -15, -10, -5, 0], "title": "Velocity [1000 km s⁻¹]", "labelPadding": 16, "titlePadding": 18}},
                      "y": {"field": "b", "type": "quantitative", "scale": {"domain": [0, 8], "nice": false, "zero": false}, "axis": {"values": [0, 2, 4, 6, 8], "format": "d", "title": "Relative Flux + const", "labelAngle": -90, "labelAlign": "center", "labelBaseline": "alphabetic", "labelPadding": 17, "titlePadding": 18}},
                      "detail": {"field": "e", "type": "nominal"}}},
        {"data": {"name": "spec"}, "transform": [{"filter": "datum.p === 'MS'"}],
         "mark": {"type": "line", "color": "#2ed02e", "strokeWidth": 12, "interpolate": "monotone", "clip": true},
         "encoding": {"x": {"field": "v", "type": "quantitative", "scale": {"domain": [-20, 1.6], "nice": false, "zero": false}}, "y": {"field": "g", "type": "quantitative", "scale": {"domain": [0, 8], "nice": false, "zero": false}}, "detail": {"field": "e", "type": "nominal"}}},
        {"data": {"name": "spec"}, "transform": [{"filter": "datum.p === 'MS'"}],
         "mark": {"type": "line", "color": "#f5200c", "strokeWidth": 12, "interpolate": "monotone", "clip": true},
         "encoding": {"x": {"field": "v", "type": "quantitative", "scale": {"domain": [-20, 1.6], "nice": false, "zero": false}}, "y": {"field": "r", "type": "quantitative", "scale": {"domain": [0, 8], "nice": false, "zero": false}}, "detail": {"field": "e", "type": "nominal"}}},
        {"data": {"name": "xt"}, "mark": {"type": "tick", "orient": "vertical", "thickness": 1.3, "color": "#333", "clip": true},
         "encoding": {"x": {"field": "v", "type": "quantitative", "scale": {"domain": [-20, 1.6], "nice": false, "zero": false}}, "y": {"datum": 0, "type": "quantitative", "scale": {"domain": [0, 8], "nice": false, "zero": false}}, "size": {"field": "k", "type": "ordinal", "scale": {"domain": ["M", "m"], "range": [20, 10]}, "legend": null}}},
        {"data": {"name": "xt"}, "mark": {"type": "tick", "orient": "vertical", "thickness": 1.3, "color": "#333", "clip": true},
         "encoding": {"x": {"field": "v", "type": "quantitative", "scale": {"domain": [-20, 1.6], "nice": false, "zero": false}}, "y": {"datum": 8, "type": "quantitative", "scale": {"domain": [0, 8], "nice": false, "zero": false}}, "size": {"field": "k", "type": "ordinal", "scale": {"domain": ["M", "m"], "range": [20, 10]}, "legend": null}}},
        {"data": {"name": "yt"}, "mark": {"type": "tick", "orient": "horizontal", "thickness": 1.3, "size": 20, "color": "#333", "clip": true},
         "encoding": {"x": {"datum": -20, "type": "quantitative", "scale": {"domain": [-20, 1.6], "nice": false, "zero": false}}, "y": {"field": "f", "type": "quantitative", "scale": {"domain": [0, 8], "nice": false, "zero": false}}}},
        {"data": {"name": "yt"}, "mark": {"type": "tick", "orient": "horizontal", "thickness": 1.3, "size": 20, "color": "#333", "clip": true},
         "encoding": {"x": {"datum": 1.6, "type": "quantitative", "scale": {"domain": [-20, 1.6], "nice": false, "zero": false}}, "y": {"field": "f", "type": "quantitative", "scale": {"domain": [0, 8], "nice": false, "zero": false}}}},
        {"data": {"name": "lab"}, "mark": {"type": "text", "align": "right", "baseline": "middle", "font": "DejaVu Sans", "fontSize": 22, "color": "#222"},
         "encoding": {"x": {"datum": 0.55, "type": "quantitative", "scale": {"domain": [-20, 1.6], "nice": false, "zero": false}}, "y": {"field": "f", "type": "quantitative", "scale": {"domain": [0, 8], "nice": false, "zero": false}}, "text": {"field": "t"}}},
        {"data": {"name": "cbl"}, "mark": {"type": "text", "align": "right", "baseline": "middle", "font": "DejaVu Sans", "fontSize": 21, "color": "#222"},
         "encoding": {"x": {"datum": -3.2, "type": "quantitative", "scale": {"domain": [-20, 1.6], "nice": false, "zero": false}}, "y": {"field": "f", "type": "quantitative", "scale": {"domain": [0, 8], "nice": false, "zero": false}}, "text": {"field": "t"}}},
        {"data": {"name": "ins"}, "transform": [{"filter": "datum.p === 'MS'"}], "mark": {"type": "text", "align": "left", "baseline": "middle", "font": "DejaVu Sans", "fontSize": 21, "color": "#222"},
         "encoding": {"x": {"datum": -17.84, "type": "quantitative", "scale": {"domain": [-20, 1.6], "nice": false, "zero": false}}, "y": {"datum": 7.42, "type": "quantitative", "scale": {"domain": [0, 8], "nice": false, "zero": false}}, "text": {"field": "t"}}},
        {"mark": {"type": "text", "text": "MS", "align": "center", "baseline": "alphabetic", "font": "Liberation Sans", "fontSize": 46, "color": "#27b4d8"},
         "encoding": {"x": {"datum": -9.74, "type": "quantitative", "scale": {"domain": [-20, 1.6], "nice": false, "zero": false}}, "y": {"datum": 8.42, "type": "quantitative", "scale": {"domain": [0, 8], "nice": false, "zero": false}}}}
      ]},
      {"data": {"name": "cb"}, "mark": {"type": "tick", "orient": "horizontal", "thickness": 4.6, "size": 21},
       "encoding": {"x": {"datum": -1.585, "type": "quantitative", "scale": {"domain": [-20, 1.6], "nice": false, "zero": false}},
                    "y": {"field": "c", "type": "quantitative", "scale": {"domain": [-18.95, 2.1], "nice": false, "zero": false}, "axis": null},
                    "color": {"field": "c", "type": "quantitative", "scale": {"domain": [-1, 0, 1], "range": ["#1030f0", "#10e010", "#ff2000"], "interpolate": "rgb"}, "legend": null}}},
      {"mark": {"type": "rect", "filled": false, "color": "#222", "strokeWidth": 1.2},
       "encoding": {"x": {"datum": -2.72, "type": "quantitative", "scale": {"domain": [-20, 1.6], "nice": false, "zero": false}}, "x2": {"datum": -0.45},
                    "y": {"datum": 7.6, "type": "quantitative", "scale": {"domain": [0, 8], "nice": false, "zero": false}, "axis": null}, "y2": {"datum": 6.8}}}
    ]
  },
  {
    "width": 644, "height": 800,
    "layer": [
      {"mark": {"type": "rect", "color": "white"},
       "encoding": {"x": {"datum": 2.702, "type": "quantitative", "scale": {"domain": [0, 10], "nice": false, "zero": false}, "axis": null}, "x2": {"datum": 9.068},
                    "y": {"datum": 8.76, "type": "quantitative", "scale": {"domain": [0, 8], "nice": false, "zero": false}, "axis": null}, "y2": {"datum": 6.83}}},
      {"data": {"name": "leg"}, "mark": {"type": "text", "align": "left", "baseline": "alphabetic", "font": "Liberation Sans", "fontSize": 47},
       "encoding": {"x": {"field": "x", "type": "quantitative", "scale": {"domain": [0, 10], "nice": false, "zero": false}}, "y": {"field": "y", "type": "quantitative", "scale": {"domain": [0, 8], "nice": false, "zero": false}}, "text": {"field": "t"},
                    "color": {"field": "t", "type": "nominal", "scale": {"domain": ["Companion", "No companion", "Opposite"], "range": ["#ff0000", "#000000", "#27b4d8"]}, "legend": null}}},
      {"data": {"name": "br"}, "mark": {"type": "line", "color": "#27b4d8", "strokeWidth": 4, "interpolate": "linear", "strokeJoin": "round"},
       "encoding": {"x": {"field": "x", "type": "quantitative", "scale": {"domain": [0, 10], "nice": false, "zero": false}}, "y": {"field": "y", "type": "quantitative", "scale": {"domain": [0, 8], "nice": false, "zero": false}}, "detail": {"field": "b", "type": "nominal"}, "order": {"field": "i", "type": "quantitative"}}},
      {"data": {"name": "notes"}, "mark": {"type": "text", "align": "left", "baseline": "alphabetic", "font": "Liberation Sans", "fontSize": 62, "color": "#27b4d8"},
       "encoding": {"x": {"field": "x", "type": "quantitative", "scale": {"domain": [0, 10], "nice": false, "zero": false}}, "y": {"field": "y", "type": "quantitative", "scale": {"domain": [0, 8], "nice": false, "zero": false}}, "text": {"field": "t"}}}
    ]
  }
]
}
